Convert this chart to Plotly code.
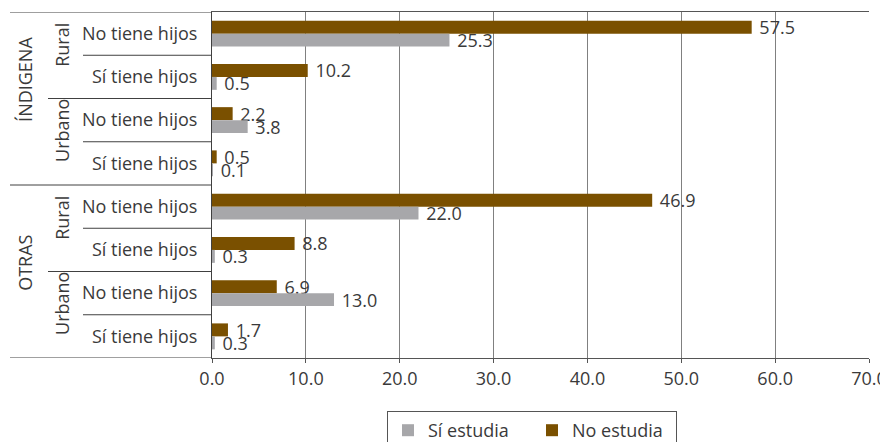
import plotly.graph_objects as go

# ---- data ----
row_labels = ["No tiene hijos", "Sí tiene hijos", "No tiene hijos", "Sí tiene hijos",
              "No tiene hijos", "Sí tiene hijos", "No tiene hijos", "Sí tiene hijos"]
areas = ["Rural", "Urbano", "Rural", "Urbano"]
groups = ["ÍNDIGENA", "OTRAS"]
no_estudia = [57.5, 10.2, 2.2, 0.5, 46.9, 8.8, 6.9, 1.7]
si_estudia = [25.3, 0.5, 3.8, 0.1, 22.0, 0.3, 13.0, 0.3]
x_ticks = [0, 10, 20, 30, 40, 50, 60, 70]

BROWN = "#7A5000"
GREY = "#A7A7AA"
TXT = "#3a3a3a"
FONT = "Open Sans"
FS = 18

rows = list(range(len(row_labels)))

fig = go.Figure()
fig.add_trace(go.Bar(
    y=rows, x=no_estudia, orientation="h", name="No estudia",
    marker=dict(color=BROWN, line=dict(width=0)),
    texttemplate=" %{x:.1f}", textposition="outside", constraintext="none",
    textfont=dict(family=FONT, size=FS, color=TXT), cliponaxis=False,
))
fig.add_trace(go.Bar(
    y=rows, x=si_estudia, orientation="h", name="Sí estudia",
    marker=dict(color=GREY, line=dict(width=0)),
    texttemplate=" %{x:.1f}", textposition="outside", constraintext="none",
    textfont=dict(family=FONT, size=FS, color=TXT), cliponaxis=False,
))

# page body has an 8px margin: work in figure coordinates = page px - 8
OFF = 8
W, H = 888 - OFF, 442 - OFF
L = 212 - OFF
T = 12 - OFF
R = W - (869 - OFF)
B = H - (358 - OFF)
pw = W - L - R


def px_to_paper_x(px):
    return (px - OFF - L) / pw


shapes = []
line_col = "#404040"
# group boundaries
for yb in [-0.5, 3.5, 7.5]:
    shapes.append(dict(type="line", xref="paper", yref="y", x0=px_to_paper_x(10), x1=0,
                       y0=yb, y1=yb, line=dict(color=line_col, width=1)))
# area boundaries
for yb in [1.5, 5.5]:
    shapes.append(dict(type="line", xref="paper", yref="y", x0=px_to_paper_x(48), x1=0,
                       y0=yb, y1=yb, line=dict(color=line_col, width=1)))
# row boundaries
for yb in [0.5, 2.5, 4.5, 6.5]:
    shapes.append(dict(type="line", xref="paper", yref="y", x0=px_to_paper_x(83), x1=0,
                       y0=yb, y1=yb, line=dict(color=line_col, width=1)))

annotations = []
group_pos = [1.07, 5.3]
for g, yp in zip(groups, group_pos):
    annotations.append(dict(text=g, xref="paper", yref="y", x=px_to_paper_x(25), y=yp,
                            showarrow=False, textangle=-90,
                            font=dict(family=FONT, size=FS, color=TXT),
                            xanchor="center", yanchor="middle"))
area_pos = [0.26, 2.25, 4.26, 6.25]
for a, yp in zip(areas, area_pos):
    annotations.append(dict(text=a, xref="paper", yref="y", x=px_to_paper_x(62), y=yp,
                            showarrow=False, textangle=-90,
                            font=dict(family=FONT, size=FS, color=TXT),
                            xanchor="center", yanchor="middle"))

fig.update_layout(
    width=W, height=H,
    margin=dict(l=L, r=R, t=T, b=B, pad=0, autoexpand=False),
    paper_bgcolor="white", plot_bgcolor="white",
    barmode="group", bargap=0.4, bargroupgap=0,
    font=dict(family=FONT, size=FS, color=TXT),
    shapes=shapes, annotations=annotations,
    showlegend=True,
    legend=dict(orientation="h", traceorder="reversed",
                xref="container", yref="container",
                x=(387 - OFF) / W, xanchor="left",
                y=1 - (411 - OFF) / H, yanchor="top",
                bordercolor="#555555", borderwidth=1,
                entrywidth=99, entrywidthmode="pixels",
                font=dict(family=FONT, size=FS, color=TXT)),
    xaxis=dict(range=[0, 70], tickvals=x_ticks, ticktext=[f"{v:.1f}" for v in x_ticks],
               showgrid=True, gridcolor="#808080", gridwidth=1,
               showline=True, linecolor="#555555", linewidth=1, mirror=True,
               ticks="outside", ticklen=4, tickcolor="#555555", automargin=False,
               zeroline=False, tickfont=dict(family=FONT, size=FS, color=TXT)),
    yaxis=dict(range=[7.5, -0.5], tickvals=rows, ticktext=row_labels,
               showgrid=False, zeroline=False, automargin=False,
               showline=True, linecolor="#404040", linewidth=1,
               ticks="", ticklabelstandoff=10,
               tickfont=dict(family=FONT, size=FS, color=TXT)),
)

fig.write_html("out.html")
